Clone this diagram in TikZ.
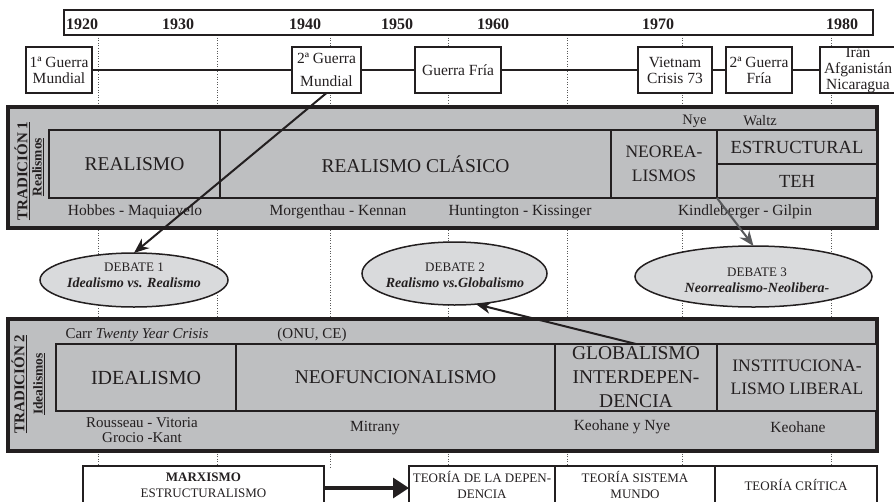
\documentclass[tikz,border=0pt]{standalone}
\usepackage{fontspec}
\setmainfont{Liberation Serif}
\usetikzlibrary{arrows.meta,shapes.geometric}
\definecolor{tradgray}{RGB}{190,191,193}
\definecolor{ellgray}{RGB}{217,218,220}
\definecolor{ink}{RGB}{35,31,32}
\definecolor{arrgray}{RGB}{88,89,91}
\newcommand\myfs[2]{\fontsize{#1}{#2}\selectfont}
\pgfdeclarelayer{bg}
\pgfsetlayers{bg,main}
\begin{document}
\begin{tikzpicture}[x=1pt,y=-1pt,
  box/.style={draw=ink, fill=white, line width=1.2pt, inner sep=0pt, outer sep=0pt, align=center, text=ink},
  evbox/.style={box, minimum height=46pt, font=\myfs{15.5}{16}},
  botbox/.style={box, minimum height=38pt, font=\myfs{13}{16}},
  trad/.style={draw=ink, line width=3.6pt, fill=tradgray, inner sep=0pt, outer sep=0pt},
  cell/.style={draw=ink, line width=1.8pt, fill=tradgray, inner sep=0pt, outer sep=0pt, align=center, text=ink},
  deb/.style={ellipse, draw=ink, line width=1.5pt, fill=ellgray, inner sep=0pt, outer sep=0pt},
  lbl/.style={text=ink, inner sep=0pt, align=center},
  yr/.style={lbl, font=\bfseries\myfs{16}{16}},
  pname/.style={lbl, font=\myfs{15.5}{15.5}},
  psmall/.style={lbl, font=\myfs{14.5}{14.5}},
  debt/.style={lbl, font=\myfs{13}{16}},
  vlab/.style={lbl, rotate=90, font=\bfseries\myfs{15}{15}},
  gridline/.style={dotted, draw=black!65, line width=0.6pt},
  tline/.style={draw=ink, line width=2.2pt},
  conn/.style={draw=ink, line width=2pt, -{Stealth[length=15pt,width=12pt]}},
  gconn/.style={draw=arrgray, line width=2pt, -{Stealth[length=15pt,width=12pt]}},
  fatconn/.style={draw=ink, line width=3.2pt, -{Triangle[length=16pt,width=20pt]}}
]
\useasboundingbox (0,0) rectangle (894,501);
\clip (0,0) rectangle (894,501);

% year bar
\node[box, minimum width=809pt, minimum height=25pt] (yearbar) at (468.5,22.5) {};
\node[yr] (y1920) at (82,24) {1920};
\node[yr] (y1930) at (178,24) {1930};
\node[yr] (y1940) at (305,24) {1940};
\node[yr] (y1950) at (397,24) {1950};
\node[yr] (y1960) at (493,24) {1960};
\node[yr] (y1970) at (658,24) {1970};
\node[yr] (y1980) at (842,24) {1980};

% dotted grid lines
\begin{pgfonlayer}{bg}
\foreach \gx in {98,217,330,448,567,682,831}
  \draw[gridline] (\gx,35) -- (\gx,467);
\end{pgfonlayer}

% events
\node[evbox, minimum width=66pt] (e1) at (59,70) {1ª Guerra\\Mundial};
\node[evbox, minimum width=69pt] (e2) at (326.5,70) {2ª Guerra\\[7pt]Mundial};
\node[evbox, minimum width=86pt] (e3) at (458,70) {Guerra Fría};
\node[evbox, minimum width=74pt] (e4) at (675,70) {Vietnam\\Crisis 73};
\node[evbox, minimum width=66pt] (e5) at (759,70) {2ª Guerra\\Fría};
\node[evbox, minimum width=76pt] (e6) at (858,70) {Irán\\Afganistán\\Nicaragua};
\draw[tline] (e1) -- (e2);
\draw[tline] (e2) -- (e3);
\draw[tline] (e3) -- (e4);
\draw[tline] (e4) -- (e5);
\draw[tline] (e5) -- (e6);

% tradition 1
\node[trad, minimum width=869pt, minimum height=121pt] (t1) at (442.5,167.5) {};
\node[cell, minimum width=171pt, minimum height=68pt, font=\myfs{19.5}{24}] (r1) at (134.5,164) {REALISMO};
\node[cell, minimum width=391pt, minimum height=68pt, font=\myfs{19.5}{24}] (r2) at (415.5,164) {REALISMO CLÁSICO};
\node[cell, minimum width=106pt, minimum height=68pt, font=\myfs{17.5}{24}] (r3) at (664,164) {NEOREA-\\LISMOS};
\node[cell, minimum width=160pt, minimum height=34pt, font=\myfs{18.5}{24}] (r4) at (797,147) {ESTRUCTURAL};
\node[cell, minimum width=160pt, minimum height=34pt, font=\myfs{18.5}{24}] (r5) at (797,181) {TEH};
\node[vlab] (t1a) at (22,171) {\underline{TRADICIÓN 1}};
\node[vlab, font=\bfseries\myfs{13.5}{13.5}] (t1b) at (38,167) {\underline{Realismos}};
\node[psmall] (nye) at (694.5,121) {Nye};
\node[psmall] (waltz) at (760,121) {Waltz};
\node[pname] (n1) at (135,212) {Hobbes - Maquiavelo};
\node[pname] (n2) at (338,212) {Morgenthau - Kennan};
\node[pname] (n3) at (520,212) {Huntington - Kissinger};
\node[pname] (n4) at (745,212) {Kindleberger - Gilpin};

% debates
\node[deb, minimum width=188pt, minimum height=54pt] (d1) at (134,280) {};
\node[deb, minimum width=185pt, minimum height=63pt] (d2) at (454.5,273.5) {};
\node[deb, minimum width=237pt, minimum height=61pt] (d3) at (753.5,276.5) {};
\node[debt] (d1t) at (134,275) {DEBATE 1\\\textbf{\textit{\myfs{14}{16}Idealismo vs. Realismo}}};
\node[debt] (d2t) at (455,275.5) {DEBATE 2\\\textbf{\textit{\myfs{14}{16}Realismo vs.Globalismo}}};
\node[debt] (d3t) at (757,280) {DEBATE 3\\\textbf{\textit{\myfs{14}{16}Neorrealismo-Neolibera-}}};

% tradition 2
\node[trad, minimum width=869pt, minimum height=132pt] (t2) at (442.5,385) {};
\node[cell, minimum width=180pt, minimum height=67pt, font=\myfs{20}{24}] (i1) at (146,377.5) {IDEALISMO};
\node[cell, minimum width=319pt, minimum height=67pt, font=\myfs{19.5}{24}] (i2) at (395.5,377.5) {NEOFUNCIONALISMO};
\node[cell, minimum width=162pt, minimum height=67pt, font=\myfs{19.5}{24}] (i3) at (636,377.5) {GLOBALISMO\\INTERDEPEN-\\DENCIA};
\node[cell, minimum width=160pt, minimum height=67pt, font=\myfs{17.5}{23}] (i4) at (797,377.5) {INSTITUCIONA-\\LISMO LIBERAL};
\node[vlab] (t2a) at (19,384) {\underline{TRADICIÓN 2}};
\node[vlab, font=\bfseries\myfs{13.5}{13.5}] (t2b) at (39,384) {\underline{Idealismos}};
\node[lbl, font=\myfs{15}{15}] (carr) at (137,335) {Carr \textit{Twenty Year Crisis}};
\node[lbl, font=\myfs{15}{15}] (onu) at (312,335) {(ONU, CE)};
\node[pname, font=\myfs{15}{15}] (m1) at (142,430.5) {Rousseau - Vitoria\\Grocio -Kant};
\node[pname] (m2) at (375,428) {Mitrany};
\node[pname] (m3) at (622,427) {Keohane y Nye};
\node[pname] (m4) at (798,427) {Keohane};

% bottom row
\node[botbox, minimum width=241pt] (marx) at (203.5,485) {\textbf{MARXISMO}\\ESTRUCTURALISMO};
\node[botbox, minimum width=146pt] (dep) at (482,485) {TEORÍA DE LA DEPEN-\\DENCIA};
\node[botbox, minimum width=160pt] (sis) at (635,485) {TEORÍA SISTEMA\\MUNDO};
\node[botbox, minimum width=162pt] (crit) at (796,485) {TEORÍA CRÍTICA};

% connectors
\draw[conn] (e2.south) -- (d1.north);
\draw[gconn] (r3.south east) -- (d3.north);
\draw[conn] (i3.north) -- (d2.-55);
\draw[fatconn] ([yshift=-3pt]marx.east) -- ([yshift=-3pt]dep.west);
\end{tikzpicture}
\end{document}
